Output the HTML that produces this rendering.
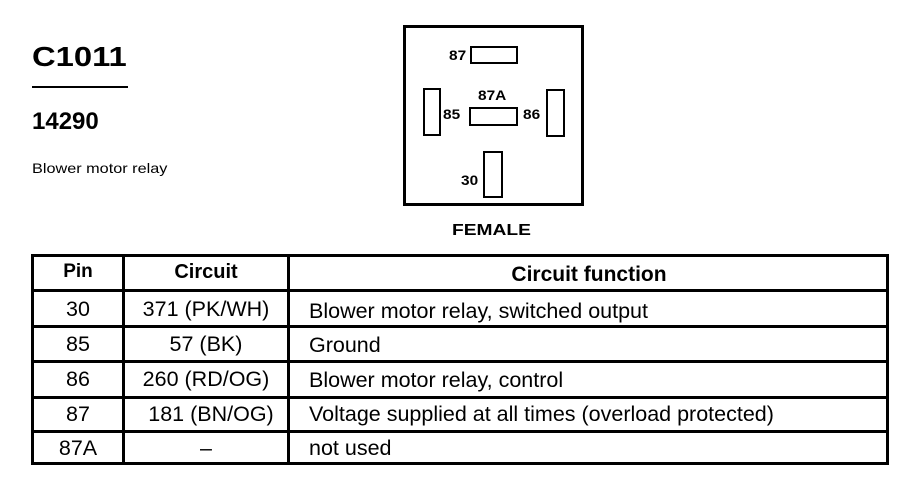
<!DOCTYPE html>
<html><head><meta charset="utf-8"><style>
body{margin:0;width:904px;height:480px;background:#fff;position:relative;overflow:hidden;font-family:"Liberation Sans",Arial,sans-serif;color:#000}
.a{position:absolute;white-space:nowrap}
.b{position:absolute;border:3px solid #000;box-sizing:border-box}
.t{position:absolute;font-size:21.5px;line-height:22px;white-space:nowrap}
.h{position:absolute;background:#000}
</style></head><body>
<div class="a" style="left:32px;top:41px;font-size:28px;font-weight:bold;transform:scaleX(1.17);transform-origin:left">C1011</div>
<div class="h" style="left:32px;top:86px;width:96px;height:2px"></div>
<div class="a" style="left:32px;top:108px;font-size:24px;font-weight:bold">14290</div>
<div class="a" style="left:32px;top:160px;font-size:14px;transform:scaleX(1.16);transform-origin:left">Blower motor relay</div>

<div class="b" style="left:403px;top:25px;width:181px;height:181px"></div>
<div class="b" style="left:470px;top:46px;width:48px;height:18px;border-width:2px"></div>
<div class="b" style="left:423px;top:88px;width:18px;height:48px;border-width:2px"></div>
<div class="b" style="left:469px;top:107px;width:49px;height:19px;border-width:2px"></div>
<div class="b" style="left:546px;top:89px;width:19px;height:48px;border-width:2px"></div>
<div class="b" style="left:483px;top:151px;width:20px;height:47px;border-width:2px"></div>
<div class="a" style="left:449px;top:47px;font-size:14px;font-weight:bold;transform:scaleX(1.1);transform-origin:left">87</div>
<div class="a" style="left:478px;top:87px;font-size:14px;font-weight:bold;transform:scaleX(1.1);transform-origin:left">87A</div>
<div class="a" style="left:443px;top:106px;font-size:14px;font-weight:bold;transform:scaleX(1.1);transform-origin:left">85</div>
<div class="a" style="left:523px;top:106px;font-size:14px;font-weight:bold;transform:scaleX(1.1);transform-origin:left">86</div>
<div class="a" style="left:461px;top:172px;font-size:14px;font-weight:bold;transform:scaleX(1.1);transform-origin:left">30</div>
<div class="a" style="left:452px;top:222px;font-size:16px;font-weight:bold;transform:scaleX(1.2);transform-origin:left">FEMALE</div>

<div class="b" style="left:31px;top:254px;width:858px;height:211px"></div>
<div class="h" style="left:122px;top:254px;width:3px;height:211px"></div>
<div class="h" style="left:287px;top:254px;width:3px;height:211px"></div>
<div class="h" style="left:31px;top:289px;width:858px;height:3px"></div>
<div class="h" style="left:31px;top:325px;width:858px;height:3px"></div>
<div class="h" style="left:31px;top:360px;width:858px;height:3px"></div>
<div class="h" style="left:31px;top:396px;width:858px;height:3px"></div>
<div class="h" style="left:31px;top:430px;width:858px;height:3px"></div>

<div class="t" style="left:34px;width:88px;top:261px;text-align:center;font-weight:bold;font-size:19px">Pin</div>
<div class="t" style="left:125px;width:162px;top:261px;text-align:center;font-weight:bold;font-size:20px">Circuit</div>
<div class="t" style="left:290px;width:598px;top:264px;text-align:center;font-weight:bold;font-size:21px">Circuit function</div>

<div class="t" style="left:34px;width:88px;top:298px;text-align:center">30</div>
<div class="t" style="left:125px;width:162px;top:298px;text-align:center">371 (PK/WH)</div>
<div class="t" style="left:309px;top:300px">Blower motor relay, switched output</div>

<div class="t" style="left:34px;width:88px;top:333px;text-align:center">85</div>
<div class="t" style="left:125px;width:162px;top:333px;text-align:center">57 (BK)</div>
<div class="t" style="left:309px;top:334px">Ground</div>

<div class="t" style="left:34px;width:88px;top:368px;text-align:center">86</div>
<div class="t" style="left:125px;width:162px;top:368px;text-align:center">260 (RD/OG)</div>
<div class="t" style="left:309px;top:369px">Blower motor relay, control</div>

<div class="t" style="left:34px;width:88px;top:403px;text-align:center">87</div>
<div class="t" style="left:130px;width:162px;top:403px;text-align:center">181 (BN/OG)</div>
<div class="t" style="left:309px;top:403px">Voltage supplied at all times (overload protected)</div>

<div class="t" style="left:34px;width:88px;top:437px;text-align:center">87A</div>
<div class="t" style="left:125px;width:162px;top:437px;text-align:center">–</div>
<div class="t" style="left:309px;top:437px">not used</div>
</body></html>
